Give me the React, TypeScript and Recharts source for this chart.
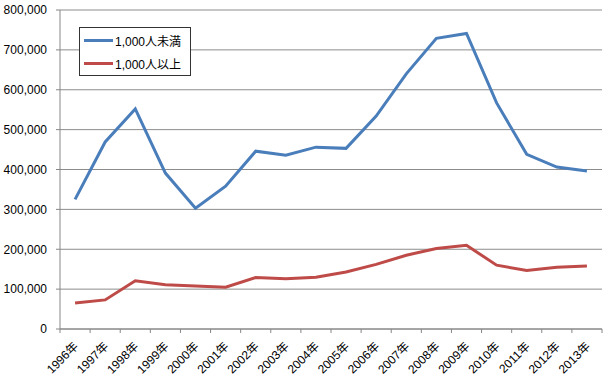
import React from 'react';
import { LineChart, Line, XAxis, YAxis, CartesianGrid } from 'recharts';

const years = ['1996年','1997年','1998年','1999年','2000年','2001年','2002年','2003年','2004年','2005年','2006年','2007年','2008年','2009年','2010年','2011年','2012年','2013年'];
const under1000 = [325000,469000,552000,391000,303000,358000,446000,436000,456000,453000,534000,640000,729000,741000,567000,438000,406000,396000];
const over1000 = [65000,73000,121000,111000,108000,105000,129000,126000,130000,143000,162000,185000,202000,210000,160000,147000,155000,158000];
const yTicks = [0,100000,200000,300000,400000,500000,600000,700000,800000];
const seriesNames = ['1,000人未満','1,000人以上'];
const colors = ['#4A7EBB','#BE4B48'];

const data = years.map((y, i) => ({ year: y, a: under1000[i], b: over1000[i] }));

const FONT = '"Liberation Sans", "Noto Sans CJK JP", sans-serif';

const XTick = (props: any) => {
  const { x, y, payload, index } = props;
  const off = payload.offset || 0;
  const last = index === years.length - 1;
  const ax = y - 8;
  return (
    <g>
      <line x1={x - off} x2={x - off} y1={ax} y2={ax + 4} stroke="#868686" />
      {last && <line x1={x + off} x2={x + off} y1={ax} y2={ax + 4} stroke="#868686" />}
      <text x={x + 4} y={y + 10} transform={`rotate(-45 ${x + 4} ${y + 10})`} textAnchor="end" fontSize={12} fill="#000" fontFamily={FONT}>
        {payload.value}
      </text>
    </g>
  );
};

const LegendBox = () => (
  <div style={{ position: 'absolute', left: 79, top: 27, width: 110, height: 47, border: '1px solid #333', background: '#fff', fontFamily: FONT, fontSize: 12 }}>
    {seriesNames.map((n, i) => (
      <div key={n} style={{ position: 'absolute', left: 4, top: 4 + i * 23, display: 'flex', alignItems: 'center', height: 16, whiteSpace: 'nowrap' }}>
        <div style={{ width: 29, height: 3, background: colors[i], marginRight: 2 }} />
        <span>{n}</span>
      </div>
    ))}
  </div>
);

export default function App() {
  return (
    <div style={{ position: 'absolute', left: 0, top: 0, width: 608, height: 381 }}>
      <LineChart width={608} height={381} data={data} margin={{ top: 10, right: 6, left: 0, bottom: 0 }}>
        <CartesianGrid vertical={false} stroke="#8c8c8c" />
        <XAxis dataKey="year" scale="band" height={52} stroke="#868686" tickLine={false} tick={<XTick />} interval={0} />
        <YAxis width={60} domain={[0, 800000]} ticks={yTicks} stroke="#868686" tickLine={{ stroke: '#868686' }} tickSize={4} tickMargin={9}
          tick={{ fontSize: 12, fill: '#000', fontFamily: FONT }}
          tickFormatter={(v: number) => v.toLocaleString('en-US')} />
        <Line dataKey="a" name={seriesNames[0]} stroke={colors[0]} strokeWidth={3} dot={false} isAnimationActive={false} />
        <Line dataKey="b" name={seriesNames[1]} stroke={colors[1]} strokeWidth={3} dot={false} isAnimationActive={false} />
      </LineChart>
      <LegendBox />
    </div>
  );
}
